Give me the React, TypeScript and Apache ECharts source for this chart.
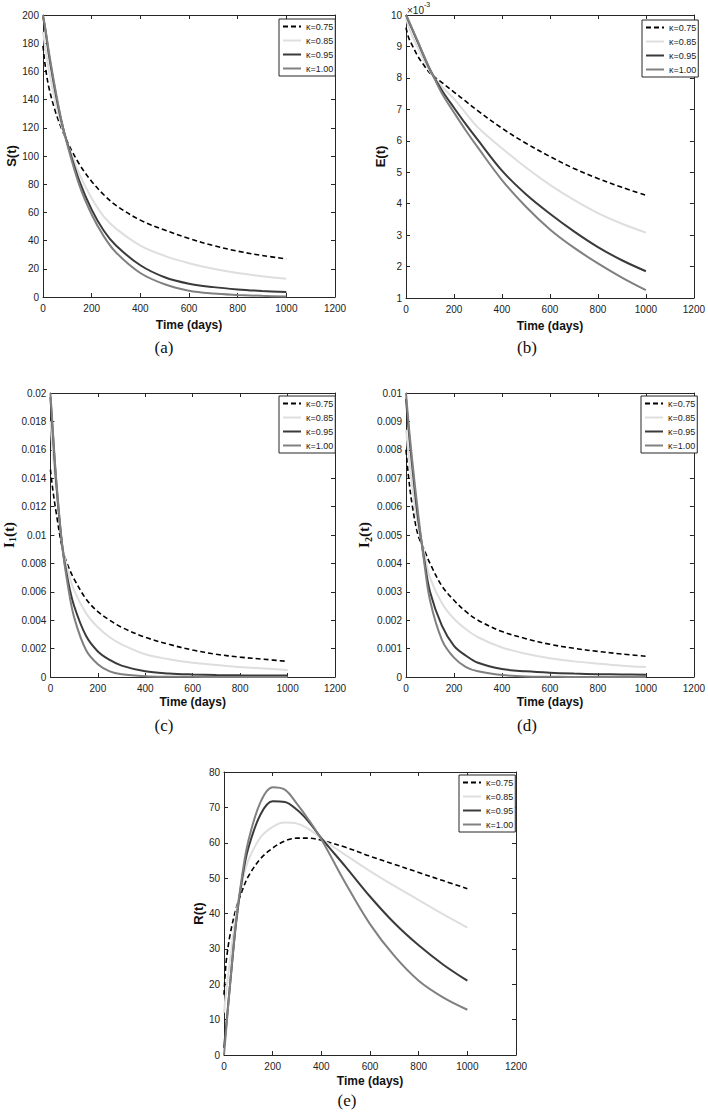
import React, { useEffect, useRef } from "react";
import * as echarts from "echarts";

// ---------- data ----------
const kappaNames = ["κ=0.75", "κ=0.85", "κ=0.95", "κ=1.00"];
const xTicks = { min: 0, max: 1200, interval: 200 };

// common time grid (days) for panels a-d
const timeDays = [0, 10, 25, 50, 75, 100, 150, 200, 250, 300, 400, 500, 600, 700, 800, 900, 1000];

// (a) S(t)
const S_075 = [178, 163, 148, 132, 120, 110, 94, 82, 72.5, 65, 54.5, 47.5, 41.5, 36.5, 32.5, 29.5, 27];
const S_085 = [188, 176, 160, 139, 122, 109, 87, 70, 57, 48.5, 36.5, 29.2, 24, 20, 17, 14.8, 13];
const S_095 = [199, 189, 171, 146, 125, 109, 82, 62, 47, 36.5, 22.5, 14, 9.4, 7, 5.4, 4.3, 3.5];
const S_100 = [200, 190, 173, 148, 126, 108, 79, 58.5, 43, 31.6, 17, 9, 4.5, 2.5, 1.5, 0.8, 0.4];

// (b) E(t), in units of 1e-3
const E_075 = [9.6, 9.3, 9.05, 8.68, 8.4, 8.15, 7.85, 7.55, 7.25, 6.95, 6.4, 5.92, 5.5, 5.12, 4.8, 4.52, 4.27];
const E_085 = [9.9, 9.65, 9.35, 8.95, 8.55, 8.2, 7.72, 7.33, 6.87, 6.42, 5.76, 5.15, 4.6, 4.12, 3.7, 3.36, 3.08];
const E_095 = [10, 9.82, 9.56, 9.12, 8.68, 8.26, 7.6, 7.05, 6.52, 6.02, 5.05, 4.3, 3.68, 3.12, 2.62, 2.2, 1.85];
const E_100 = [10, 9.84, 9.58, 9.15, 8.7, 8.28, 7.5, 6.9, 6.32, 5.78, 4.75, 3.9, 3.18, 2.6, 2.1, 1.65, 1.25];

// (c) I1(t)
const I1_075 = [0.0146, 0.0132, 0.0115, 0.0091, 0.0078, 0.0069, 0.0055, 0.0046, 0.004, 0.0035, 0.0028, 0.0023, 0.0019, 0.0016, 0.0014, 0.00125, 0.0011];
const I1_085 = [0.018, 0.0158, 0.0132, 0.0093, 0.0074, 0.0061, 0.0045, 0.0035, 0.0028, 0.0023, 0.0016, 0.00125, 0.001, 0.00085, 0.0007, 0.0006, 0.0005];
const I1_095 = [0.0197, 0.0172, 0.0136, 0.0092, 0.0067, 0.005, 0.0029, 0.0018, 0.0012, 0.0008, 0.0004, 0.00025, 0.00018, 0.00014, 0.00012, 0.00011, 0.0001];
const I1_100 = [0.02, 0.0174, 0.0138, 0.0092, 0.0063, 0.0042, 0.0019, 0.0009, 0.0004, 0.0002, 0.00006, 0.00002, 0.00001, 0, 0, 0, 0];

// (d) I2(t)
const I2_075 = [0.008, 0.0071, 0.0061, 0.005, 0.0045, 0.004, 0.0032, 0.0027, 0.0023, 0.002, 0.0016, 0.00135, 0.00115, 0.00101, 0.0009, 0.00081, 0.00073];
const I2_085 = [0.0087, 0.0079, 0.0068, 0.0053, 0.0044, 0.0035, 0.0026, 0.00205, 0.00168, 0.0014, 0.00104, 0.00082, 0.00066, 0.00055, 0.00047, 0.0004, 0.00035];
const I2_095 = [0.0098, 0.0088, 0.0075, 0.0056, 0.0042, 0.003, 0.0018, 0.0011, 0.00075, 0.0005, 0.00028, 0.0002, 0.00015, 0.00012, 0.0001, 0.00009, 0.00008];
const I2_100 = [0.01, 0.009, 0.0077, 0.0058, 0.0041, 0.0027, 0.0013, 0.00068, 0.00035, 0.0002, 0.00007, 0.00002, 0.00001, 0, 0, 0, 0];

// (e) R(t)
const timeDaysR = [0, 5, 10, 25, 50, 75, 100, 150, 200, 250, 300, 350, 400, 500, 600, 700, 800, 900, 1000];
const R_075 = [17, 23, 27, 34, 41.5, 46.5, 50.5, 55.5, 58.5, 60.5, 61.3, 61.3, 60.7, 58.7, 56.2, 53.9, 51.6, 49.3, 47];
const R_085 = [12, 15.5, 18.5, 27, 40, 49, 55, 61.5, 64.5, 65.7, 65.4, 63.8, 61.2, 56.5, 52, 47.8, 43.8, 39.8, 36];
const R_095 = [2, 5.5, 9, 20, 37.5, 50, 58.5, 68, 71.7, 71.5, 69.3, 65.8, 61.3, 53.2, 44.8, 37.3, 31, 25.6, 21];
const R_100 = [0, 4, 8, 20, 38, 51, 60.5, 71.5, 75.7, 75, 71, 66.3, 61, 48.5, 37, 28, 21, 16.3, 12.8];

// ---------- layout / style ----------
const GRIDS = [
  { left: 43, top: 15, width: 292, height: 282 },
  { left: 406, top: 15, width: 292, height: 283 },
  { left: 43, top: 393, width: 292, height: 284 },
  { left: 406, top: 393, width: 292, height: 284 },
  { left: 224, top: 772, width: 292, height: 283 },
];
const LEGEND_POS = [
  [279, 19],
  [642, 20],
  [279, 396],
  [641, 396],
  [459, 775],
];
const X_NAME_GAP = [22, 22, 19, 19, 20];
const Y_NAME_GAP = [21, 13, 22, 28, 13];

const LINE_COLORS = ["#000000", "#dedede", "#3a3a3a", "#808080"];
const LINE_WIDTHS = [1.6, 2, 2, 2];
const AXIS_COLOR = "#262626";
const SANS = "'Liberation Sans', Arial, Helvetica, sans-serif";
const SERIF = "'Liberation Serif', 'Times New Roman', serif";

const PANELS = [
  { times: timeDays, values: [S_075, S_085, S_095, S_100], yMin: 0, yMax: 200, yInt: 20, yName: "S(t)", label: "(a)", labelPos: [164, 347] },
  { times: timeDays, values: [E_075, E_085, E_095, E_100], yMin: 1, yMax: 10, yInt: 1, yName: "E(t)", label: "(b)", labelPos: [527, 347] },
  { times: timeDays, values: [I1_075, I1_085, I1_095, I1_100], yMin: 0, yMax: 0.02, yInt: 0.002, yName: "{i|I}{s|1}{i|(t)}", label: "(c)", labelPos: [164, 725] },
  { times: timeDays, values: [I2_075, I2_085, I2_095, I2_100], yMin: 0, yMax: 0.01, yInt: 0.001, yName: "{i|I}{s|2}{i|(t)}", label: "(d)", labelPos: [527, 725] },
  { times: timeDaysR, values: [R_075, R_085, R_095, R_100], yMin: 0, yMax: 80, yInt: 10, yName: "R(t)", label: "(e)", labelPos: [347, 1100] },
];

const plainNumber = (v: number) => String(Number(v.toPrecision(10)));

function buildOption() {
  const grid: any[] = [];
  const xAxis: any[] = [];
  const yAxis: any[] = [];
  const series: any[] = [];
  const legend: any[] = [];
  const graphic: any[] = [];

  PANELS.forEach((p, i) => {
    grid.push({ ...GRIDS[i], containLabel: false, show: false });
    const tick = { show: true, inside: true, length: 4, lineStyle: { color: AXIS_COLOR, width: 1 } };
    const line = { show: true, onZero: false, lineStyle: { color: AXIS_COLOR, width: 1 } };
    xAxis.push({
      type: "value", gridIndex: i, position: "bottom", ...xTicks,
      axisLine: line, axisTick: tick, splitLine: { show: false },
      axisLabel: { color: "#222", fontSize: 10, fontFamily: SANS, margin: 6, formatter: plainNumber },
      name: "Time (days)", nameLocation: "middle", nameGap: X_NAME_GAP[i],
      nameTextStyle: { color: "#111", fontSize: 12, fontFamily: SANS, fontWeight: "bold" },
    });
    xAxis.push({
      type: "value", gridIndex: i, position: "top", ...xTicks,
      axisLine: line, axisTick: tick, splitLine: { show: false }, axisLabel: { show: false },
    });
    const isI = i === 2 || i === 3;
    yAxis.push({
      type: "value", gridIndex: i, position: "left", min: p.yMin, max: p.yMax, interval: p.yInt,
      axisLine: line, axisTick: tick, splitLine: { show: false },
      axisLabel: { color: "#222", fontSize: 10, fontFamily: SANS, margin: 4, formatter: plainNumber },
      name: p.yName, nameLocation: "middle", nameGap: Y_NAME_GAP[i], nameRotate: 90,
      nameTextStyle: isI
        ? {
            rich: {
              i: { fontFamily: SERIF, fontWeight: "bold", fontSize: 15, color: "#111", lineHeight: 18 },
              s: { fontFamily: SERIF, fontWeight: "bold", fontSize: 10, color: "#111", verticalAlign: "bottom", lineHeight: 18 },
            },
          }
        : { color: "#111", fontSize: 13, fontFamily: SANS, fontWeight: "bold" },
    });
    yAxis.push({
      type: "value", gridIndex: i, position: "right", min: p.yMin, max: p.yMax, interval: p.yInt,
      axisLine: line, axisTick: tick, splitLine: { show: false }, axisLabel: { show: false },
    });

    p.values.forEach((vals, k) => {
      series.push({
        type: "line",
        name: kappaNames[k],
        xAxisIndex: 2 * i,
        yAxisIndex: 2 * i,
        data: p.times.map((t, j) => [t, vals[j]]),
        smooth: 0.35,
        symbol: "none",
        showSymbol: false,
        clip: true,
        lineStyle: { color: LINE_COLORS[k], width: LINE_WIDTHS[k], type: k === 0 ? [5, 3] : "solid" },
        itemStyle: { color: LINE_COLORS[k] },
      });
    });

    legend.push({
      show: true,
      left: LEGEND_POS[i][0],
      top: LEGEND_POS[i][1],
      orient: "vertical",
      data: kappaNames,
      selectedMode: false,
      itemWidth: 18,
      itemHeight: 8,
      itemGap: 5,
      padding: [3, 2, 3, 3],
      borderColor: AXIS_COLOR,
      borderWidth: 1,
      backgroundColor: "#ffffff",
      itemStyle: { opacity: 0 },
      textStyle: { fontSize: 9, color: "#222", fontFamily: SANS },
    });

    graphic.push({
      type: "text",
      x: p.labelPos[0],
      y: p.labelPos[1],
      style: { text: p.label, fontFamily: SERIF, fontSize: 17, fill: "#111", align: "center", verticalAlign: "middle" },
    });
  });

  graphic.push({
    type: "text",
    x: 407,
    y: 1,
    style: {
      text: "{a|×10}{b|-3}",
      rich: {
        a: { fontFamily: SANS, fontSize: 10, fill: "#222", lineHeight: 14, verticalAlign: "bottom" },
        b: { fontFamily: SANS, fontSize: 7, fill: "#222", lineHeight: 14, verticalAlign: "top" },
      },
    },
  });

  return { animation: false, backgroundColor: "#ffffff", grid, xAxis, yAxis, series, legend, graphic };
}

export default function App() {
  const ref = useRef<HTMLDivElement>(null);
  useEffect(() => {
    if (!ref.current) return;
    const chart = echarts.init(ref.current, null, { renderer: "svg" });
    chart.setOption(buildOption() as any);
    return () => chart.dispose();
  }, []);
  return <div ref={ref} style={{ position: "absolute", left: 0, top: 0, width: 708, height: 1112 }} />;
}
